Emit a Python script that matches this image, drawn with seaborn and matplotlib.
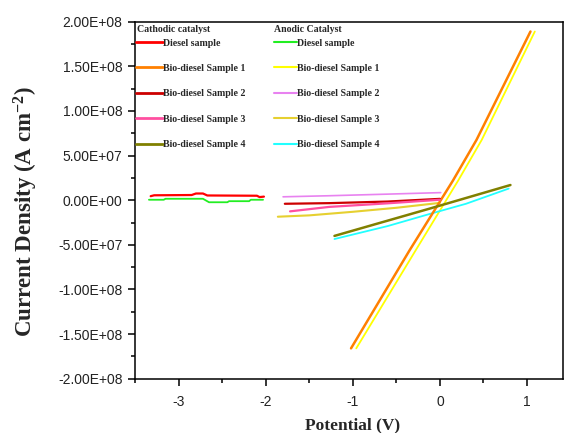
import matplotlib
matplotlib.use("Agg")
import matplotlib.pyplot as plt
import matplotlib.ticker as mticker
from matplotlib.lines import Line2D
import seaborn as sns
import pandas as pd

# ---------------- data ----------------
# Cathodic catalyst
cat_diesel_x = [-3.32, -3.28, -2.85, -2.80, -2.72, -2.67, -2.10, -2.07, -2.02]
cat_diesel_y = [4.5e6, 5.5e6, 5.8e6, 7.5e6, 7.5e6, 5.3e6, 5.0e6, 3.5e6, 4.0e6]
cat_bd1_x = [-1.02, -0.35, 0.15, 0.42, 1.04]
cat_bd1_y = [-1.66e8, -5.65e7, 2.2e7, 6.75e7, 1.89e8]
cat_bd2_x = [-1.78, -1.27, -0.60, 0.00]
cat_bd2_y = [-4.0e6, -3.3e6, -1.5e6, 1.5e6]
cat_bd3_x = [-1.72, -1.27, -0.60, 0.00]
cat_bd3_y = [-1.25e7, -7.5e6, -3.5e6, 0.5e6]
cat_bd4_x = [-1.21, -0.12, 0.81]
cat_bd4_y = [-4.0e7, -9.5e6, 1.7e7]

# Anodic catalyst
an_diesel_x = [-3.34, -3.17, -3.15, -2.72, -2.65, -2.44, -2.42, -2.19, -2.17, -2.03]
an_diesel_y = [0.5e6, 0.5e6, 1.6e6, 1.6e6, -2.3e6, -2.3e6, -1.1e6, -1.1e6, 0.5e6, 0.5e6]
an_bd1_x = [-0.96, -0.28, 0.21, 0.48, 1.09]
an_bd1_y = [-1.66e8, -5.65e7, 2.2e7, 6.75e7, 1.89e8]
an_bd2_x = [-1.80, -1.27, -0.60, 0.01]
an_bd2_y = [3.8e6, 5.0e6, 6.8e6, 8.5e6]
an_bd3_x = [-1.86, -1.50, -1.00, -0.50, 0.00]
an_bd3_y = [-1.85e7, -1.7e7, -1.3e7, -8.5e6, -3.0e6]
an_bd4_x = [-1.21, -0.60, -0.12, 0.30, 0.79]
an_bd4_y = [-4.35e7, -2.9e7, -1.55e7, -4.0e6, 1.3e7]

sample_labels = ["Diesel sample", "Bio-diesel Sample 1", "Bio-diesel Sample 2",
                 "Bio-diesel Sample 3", "Bio-diesel Sample 4"]
cat_colors = ["#FF0000", "#FF8000", "#CC0000", "#FF4FA0", "#808000"]
an_colors = ["#22EE22", "#FFFF00", "#E882F0", "#E6D030", "#22FFFF"]

cat_series = [(cat_diesel_x, cat_diesel_y), (cat_bd1_x, cat_bd1_y), (cat_bd2_x, cat_bd2_y),
              (cat_bd3_x, cat_bd3_y), (cat_bd4_x, cat_bd4_y)]
an_series = [(an_diesel_x, an_diesel_y), (an_bd1_x, an_bd1_y), (an_bd2_x, an_bd2_y),
             (an_bd3_x, an_bd3_y), (an_bd4_x, an_bd4_y)]

# ---------------- style ----------------
sns.set_style("ticks")
plt.rcParams["font.family"] = ["Liberation Sans", "DejaVu Sans"]
plt.rcParams["mathtext.fontset"] = "custom"
plt.rcParams["mathtext.rm"] = "Liberation Serif:bold"
plt.rcParams["mathtext.bf"] = "Liberation Serif:bold"
plt.rcParams["mathtext.it"] = "Liberation Serif:bold"

fig = plt.figure(figsize=(5.66, 4.33), dpi=100)
ax = fig.add_axes([135 / 566, 1 - 378.7 / 433, (562.7 - 135) / 566, (378.7 - 21.7) / 433])

cat_lw = [1.6, 1.8, 1.6, 1.6, 1.8]
an_lw = [1.3, 1.3, 1.2, 1.5, 1.3]

for (x, y), c, lw in zip(an_series, an_colors, an_lw):
    df = pd.DataFrame({"x": x, "y": y})
    sns.lineplot(data=df, x="x", y="y", color=c, lw=lw, ax=ax, sort=False, estimator=None)
for (x, y), c, lw in zip(cat_series, cat_colors, cat_lw):
    df = pd.DataFrame({"x": x, "y": y})
    sns.lineplot(data=df, x="x", y="y", color=c, lw=lw, ax=ax, sort=False, estimator=None)

ax.set_xlim(-3.5, 1.41)
ax.set_ylim(-2e8, 2e8)
ax.xaxis.set_major_locator(mticker.MultipleLocator(1))
ax.xaxis.set_minor_locator(mticker.MultipleLocator(0.5))
ax.yaxis.set_major_locator(mticker.MultipleLocator(5e7))
ax.yaxis.set_minor_locator(mticker.MultipleLocator(2.5e7))
ax.yaxis.set_major_formatter(mticker.FuncFormatter(lambda v, p: f"{v:.2E}"))
ax.xaxis.set_major_formatter(mticker.FuncFormatter(lambda v, p: f"{v:g}"))

for s in ax.spines.values():
    s.set_linewidth(1.1)
    s.set_color("black")
ax.tick_params(which="major", direction="out", length=5, width=1.1, color="black",
               labelsize=10, labelcolor="#222222")
ax.tick_params(which="minor", direction="out", length=3, width=1.1, color="black")
ax.tick_params(axis="y", which="major", pad=4)
ax.tick_params(axis="x", which="major", pad=7)

serif = ["Liberation Serif", "DejaVu Serif"]
ax.set_xlabel("Potential (V)", family=serif, weight="bold", size=12.5)
ax.set_ylabel(r"Current Density (A cm$^{\mathbf{-2}}$)", family=serif, weight="bold", size=16.5)
ax.xaxis.set_label_coords(0.509, -0.108)
ax.yaxis.set_label_coords(-0.221, 0.468)

# ---------------- legends ----------------
leg_font = {"family": "Liberation Serif", "weight": "bold", "size": 7.1}
cat_handles = [Line2D([], [], color=c, lw=2.0) for c in cat_colors]
an_handles = [Line2D([], [], color=c, lw=1.5) for c in an_colors]

leg1 = ax.legend(cat_handles, sample_labels, loc="upper left",
                 bbox_to_anchor=(136 / 566, 1 - 38.5 / 433), bbox_transform=fig.transFigure,
                 frameon=False, prop=leg_font, borderpad=0, borderaxespad=0,
                 handlelength=2.7, handletextpad=0.0, labelspacing=1.66)
ax.add_artist(leg1)
leg2 = ax.legend(an_handles, sample_labels, loc="upper left",
                 bbox_to_anchor=(274 / 566, 1 - 38.5 / 433), bbox_transform=fig.transFigure,
                 frameon=False, prop=leg_font, borderpad=0, borderaxespad=0,
                 handlelength=2.35, handletextpad=0.0, labelspacing=1.66)

fig.text(137 / 566, 1 - 29 / 433, "Cathodic catalyst", va="center", ha="left", fontdict=leg_font)
fig.text(274 / 566, 1 - 29 / 433, "Anodic Catalyst", va="center", ha="left", fontdict=leg_font)

fig.savefig("out.png", dpi=100)
